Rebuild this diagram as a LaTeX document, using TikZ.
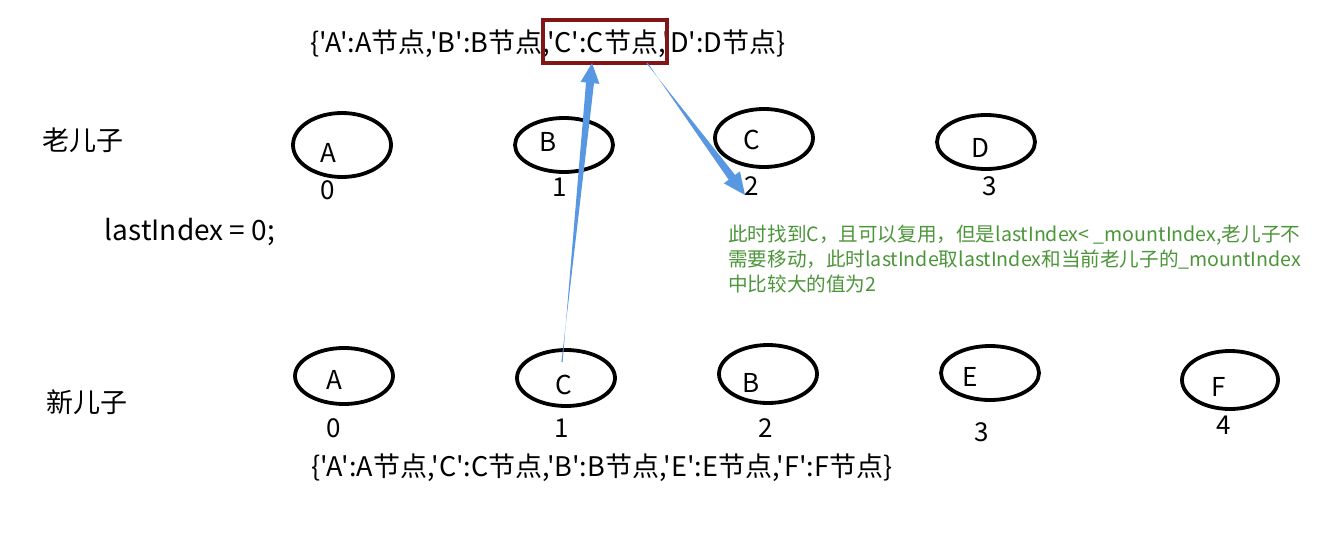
\documentclass[tikz,border=0pt]{standalone}
\usepackage{fontspec}
\setmainfont{Noto Sans CJK SC}[Ligatures=TeXOff]
\usetikzlibrary{calc}
\definecolor{arrowblue}{RGB}{88,152,226}
\definecolor{boxred}{RGB}{128,22,22}
\definecolor{notegreen}{RGB}{76,150,58}
\begin{document}
\begin{tikzpicture}[x=1pt,y=-1pt,
  txt/.style={inner sep=0pt,font=\fontsize{27}{30}\selectfont},
  lbl/.style={inner sep=0pt,font=\fontsize{26}{30}\selectfont},
  ovalline/.style={line width=3.8pt},
  note/.style={inner sep=0pt,font=\fontsize{19.6}{25}\selectfont,text=notegreen,align=left,anchor=north west}]
\useasboundingbox (0,0) rectangle (1336,538);
\fill[white] (0,0) rectangle (1336,538);

% top dictionary
\node[txt] (topdict) at (548,44) {\{'A':A节点,'B':B节点,'C':C节点,'D':D节点\}};
\node[draw=boxred,line width=3.8pt,minimum width=124pt,minimum height=43pt,inner sep=0pt] (redbox) at (605,41.5) {};

% row labels
\node[txt] (old) at (83,140) {老儿子};
\node[txt,font=\fontsize{28}{30}\selectfont] (last) at (190,232) {lastIndex = 0;};
\node[txt] (new) at (87,402) {新儿子};

% old children
\draw[ovalline] (342,145) ellipse [x radius=49, y radius=32];
\draw[ovalline] (564,145) ellipse [x radius=49, y radius=27];
\draw[ovalline] (764,138) ellipse [x radius=49, y radius=29];
\draw[ovalline] (986,142) ellipse [x radius=49, y radius=27];
\node[lbl] (oA) at (328,153) {A};
\node[lbl] (oB) at (548,142) {B};
\node[lbl] (oC) at (752,140) {C};
\node[lbl] (oD) at (980,148) {D};
\node[lbl] (o0) at (328,190) {0};
\node[lbl] (o1) at (560,187) {1};
\node[lbl] (o2) at (752,186) {2};
\node[lbl] (o3) at (990,186) {3};

% new children
\draw[ovalline] (344,376) ellipse [x radius=49, y radius=28];
\draw[ovalline] (566,378) ellipse [x radius=49, y radius=28];
\draw[ovalline] (768,374) ellipse [x radius=49, y radius=29];
\draw[ovalline] (990,373) ellipse [x radius=49, y radius=27];
\draw[ovalline] (1230,380) ellipse [x radius=48, y radius=29];
\node[lbl] (nA) at (334,380) {A};
\node[lbl] (nC) at (564,385) {C};
\node[lbl] (nB) at (751,383) {B};
\node[lbl] (nE) at (970,377) {E};
\node[lbl] (nF) at (1219,387) {F};
\node[lbl] (n0) at (334,428) {0};
\node[lbl] (n1) at (562,428) {1};
\node[lbl] (n2) at (766,428) {2};
\node[lbl] (n3) at (982,432) {3};
\node[lbl] (n4) at (1224,425) {4};

% bottom dictionary
\node[txt] (botdict) at (602,468) {\{'A':A节点,'C':C节点,'B':B节点,'E':E节点,'F':F节点\}};

% note
\node[note] (notetext) at (728,225) {此时找到C，且可以复用，但是lastIndex< \_mountIndex,老儿子不\\需要移动，此时lastInde取lastIndex和当前老儿子的\_mountIndex\\中比较大的值为2};

% up arrow (tapered) from new C to the dictionary entry
\coordinate (u0) at (562,362);
\coordinate (u1) at (592,63);
\coordinate (uh) at ($(u1)!20pt!(u0)$);
\fill[arrowblue]
  ($(u0)!0.6pt!90:(u1)$) -- ($(uh)!4pt!-90:(u1)$) -- ($(uh)!9.5pt!-90:(u1)$) -- (u1)
  -- ($(uh)!9.5pt!90:(u1)$) -- ($(uh)!4pt!90:(u1)$) -- ($(u0)!0.6pt!-90:(u1)$) -- cycle;

% down arrow (tapered) from the dictionary entry to old C
\coordinate (d0) at (647,63);
\coordinate (d1) at (745,195);
\coordinate (dh) at ($(d1)!22pt!(d0)$);
\fill[arrowblue]
  ($(d0)!0.6pt!90:(d1)$) -- ($(dh)!4pt!-90:(d1)$) -- ($(dh)!10pt!-90:(d1)$) -- (d1)
  -- ($(dh)!10pt!90:(d1)$) -- ($(dh)!4pt!90:(d1)$) -- ($(d0)!0.6pt!-90:(d1)$) -- cycle;
\end{tikzpicture}
\end{document}
